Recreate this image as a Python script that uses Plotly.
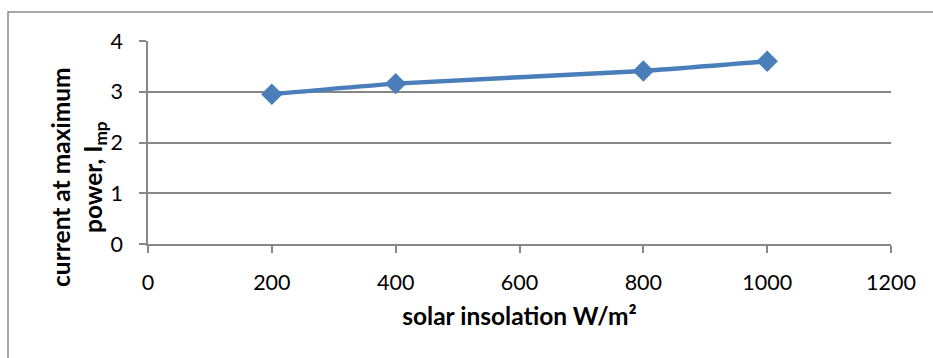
import plotly.graph_objects as go

insolation = [200, 400, 800, 1000]
imp = [2.95, 3.16, 3.41, 3.6]
x_ticks = [0, 200, 400, 600, 800, 1000, 1200]
y_ticks = [0, 1, 2, 3, 4]

FONT = "Lato"
GRID = "#888888"

fig = go.Figure()
fig.add_trace(go.Scatter(
    x=insolation, y=imp, mode="lines+markers",
    line=dict(color="#4A7EBB", width=4.5, shape="spline", smoothing=0.6),
    marker=dict(symbol="diamond", size=16.5, color="#4A7EBB"),
    showlegend=False,
))

fig.update_layout(
    width=933, height=358,
    margin=dict(l=148, r=42, t=41, b=114),
    paper_bgcolor="white", plot_bgcolor="white",
    font=dict(family=FONT, size=20, color="black"),
    xaxis=dict(
        range=[0, 1200], tickvals=x_ticks, ticktext=[str(v) for v in x_ticks],
        showline=True, linecolor=GRID, linewidth=1.5,
        ticks="outside", ticklen=7, tickcolor=GRID, tickwidth=1.5,
        showgrid=False, zeroline=False, ticklabelstandoff=11,
        tickfont=dict(family=FONT, size=21.5),
        title=dict(text="<b>solar insolation W/m²</b>", font=dict(family=FONT, size=24.5), standoff=14),
    ),
    yaxis=dict(
        range=[0, 4], tickvals=y_ticks, ticktext=[str(v) for v in y_ticks],
        showline=True, linecolor=GRID, linewidth=1.5,
        ticks="outside", ticklen=7, tickcolor=GRID, tickwidth=1.5,
        showgrid=True, gridcolor=GRID, gridwidth=1.5, zeroline=False,
        ticklabelstandoff=12,
        tickfont=dict(family=FONT, size=21.5),
    ),
    annotations=[dict(
        text="<b>current at maximum<br>power, I<sub>mp</sub></b>",
        xref="paper", yref="paper",
        x=(78 - 148) / 743, y=(244 - 177) / 203,
        xanchor="center", yanchor="middle", textangle=-90,
        showarrow=False, font=dict(family=FONT, size=24.5, color="black"),
    )],
    shapes=[dict(
        type="rect", xref="paper", yref="paper",
        x0=(8 - 148) / 743, x1=(945 - 148) / 743,
        y0=(244 - 370) / 203, y1=(244 - 12) / 203,
        line=dict(color="#8A8A8A", width=1.5), fillcolor="rgba(0,0,0,0)", layer="below",
    )],
)

fig.write_html("out.html")
